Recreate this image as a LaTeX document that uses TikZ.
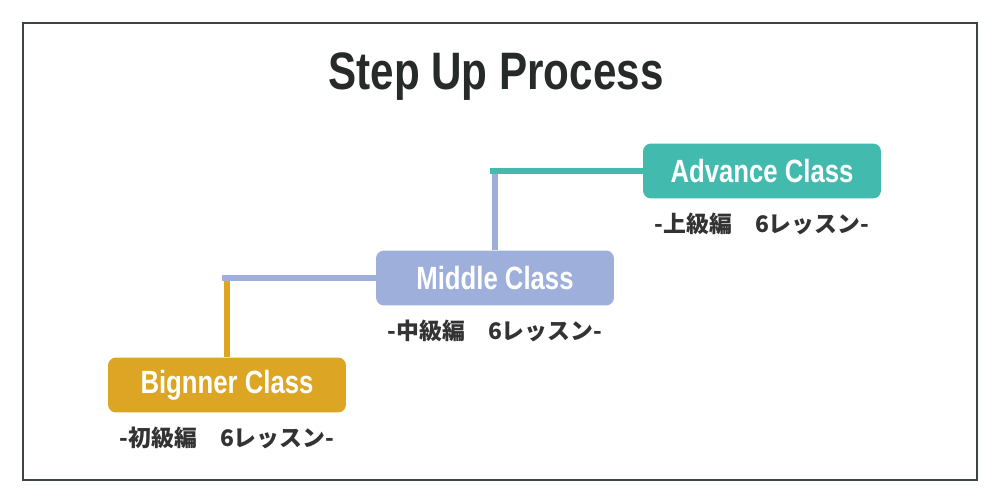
\documentclass[tikz,border=0pt]{standalone}
\usepackage{fontspec}
\usepackage{xcolor}
\setmainfont{Liberation Sans}
\newfontfamily\condfont[FakeStretch=0.8]{Liberation Sans}
\newfontfamily\jpfont{Noto Sans CJK JP}
\definecolor{stepgold}{RGB}{220, 165, 35}
\definecolor{stepblue}{RGB}{157, 175, 218}
\definecolor{stepteal}{RGB}{66, 187, 174}
\definecolor{titlegray}{RGB}{38, 42, 40}
\definecolor{framegray}{RGB}{61, 69, 67}
\definecolor{labelgray}{RGB}{51, 51, 51}
\usetikzlibrary{positioning}

\begin{document}
\begin{tikzpicture}[x=0.02cm, y=-0.02cm,
    classbox/.style={rounded corners=0.16cm, minimum width=4.76cm, minimum height=1.1cm,
        inner sep=0pt, text=white, font=\condfont\bfseries\fontsize{18.3}{21}\selectfont},
    sublabel/.style={text=labelgray, inner sep=0pt,
        font=\jpfont\bfseries\fontsize{13}{15}\selectfont},
    stepline/.style={line width=0.12cm}]

% === Marco y título ===
\useasboundingbox (0,0) rectangle (1000,500);
\draw[framegray, line width=0.05cm] (23,23) rectangle (977,480);
\node[text=titlegray, font=\condfont\bfseries\fontsize{30}{34}\selectfont] (title) at (496,77) {Step Up Process};

% === Cajas de cada nivel ===
\node[classbox, fill=stepgold] (beg) at (227,385) {Bignner Class};
\node[classbox, fill=stepblue] (mid) at (495,278) {Middle Class};
\node[classbox, fill=stepteal] (adv) at (762,171) {Advance Class};

% Etiquetas de lecciones
\node[sublabel, below=0.28cm of beg] (begsub) {-初級編　6レッスン-};
\node[sublabel, below=0.28cm of mid] (midsub) {-中級編　6レッスン-};
\node[sublabel, below=0.28cm of adv] (advsub) {-上級編　6レッスン-};

% === Escalones ===
\draw[stepline, stepgold] (beg.north) -- (beg.north |- mid.west);
\draw[stepline, stepblue] ([xshift=-0.1cm]beg.north |- mid.west) -- (mid.west);
\draw[stepline, stepblue] (mid.north) -- (mid.north |- adv.west);
\draw[stepline, stepteal] ([xshift=-0.1cm]mid.north |- adv.west) -- (adv.west);

\end{tikzpicture}
\end{document}
